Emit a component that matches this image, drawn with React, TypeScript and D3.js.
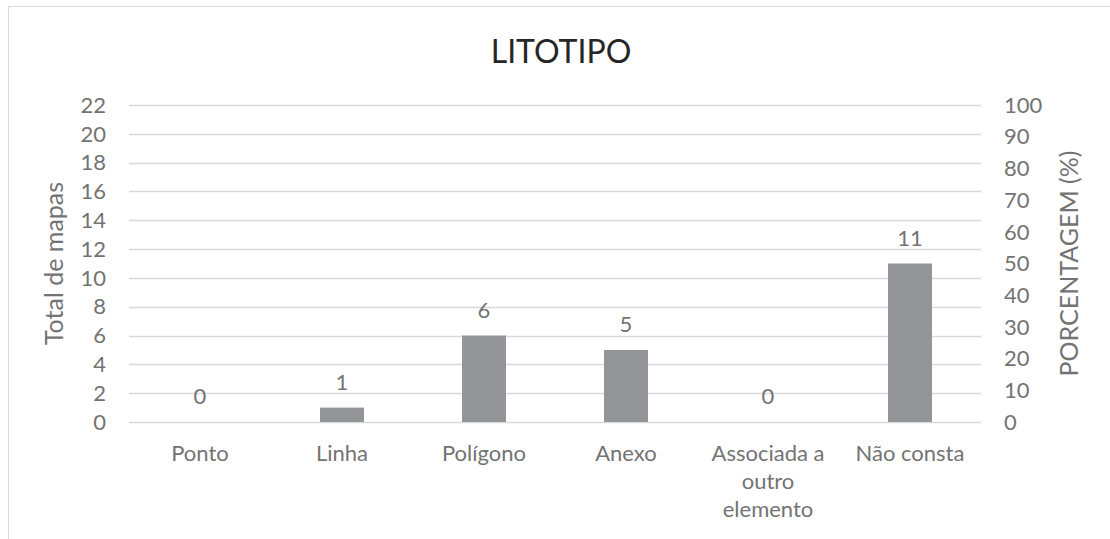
import { useEffect, useRef } from 'react'
import * as d3 from 'd3'

const categories = ['Ponto', 'Linha', 'Polígono', 'Anexo', 'Associada a outro elemento', 'Não consta']
const totals = [0, 1, 6, 5, 0, 11]
const leftTicks = [0, 2, 4, 6, 8, 10, 12, 14, 16, 18, 20, 22]
const rightTicks = [0, 10, 20, 30, 40, 50, 60, 70, 80, 90, 100]

const W = 1110
const H = 539
const FONT = 'Lato, "Open Sans", sans-serif'
const TEXT = '#737373'
const GRID = '#d9d9d9'
const BAR = '#939598'

// break a label into lines that fit the band width
function wrapWords(text: string, maxWidth: number, measure: (s: string) => number) {
  const words = text.split(' ')
  const lines: string[] = []
  let current = ''
  for (const w of words) {
    const test = current ? current + ' ' + w : w
    if (current && measure(test) > maxWidth) {
      lines.push(current)
      current = w
    } else {
      current = test
    }
  }
  if (current) lines.push(current)
  return lines
}

export default function App() {
  const svgRef = useRef<SVGSVGElement | null>(null)

  useEffect(() => {
    const svgElement = svgRef.current
    if (!svgElement) return
    const svg = d3.select(svgElement)
    svg.selectAll('*').remove()

    const plotLeft = 129
    const plotRight = 981
    const plotTop = 105
    const plotBottom = 422

    // chart frame (only left and top edges fall inside the picture)
    svg
      .append('rect')
      .attr('x', 8.5)
      .attr('y', 6.5)
      .attr('width', W)
      .attr('height', H)
      .attr('fill', '#fff')
      .attr('stroke', GRID)
      .attr('stroke-width', 1)

    const x = d3
      .scaleBand<string>()
      .domain(categories)
      .range([plotLeft, plotRight])
      .paddingInner(0.69)
      .paddingOuter(0.345)

    const y = d3.scaleLinear().domain([0, 22]).range([plotBottom, plotTop])
    const yRight = d3.scaleLinear().domain([0, 100]).range([plotBottom, plotTop])

    // gridlines
    svg
      .append('g')
      .selectAll('line')
      .data(leftTicks)
      .join('line')
      .attr('x1', plotLeft)
      .attr('x2', plotRight)
      .attr('y1', (d) => Math.round(y(d)) + 0.5)
      .attr('y2', (d) => Math.round(y(d)) + 0.5)
      .attr('stroke', GRID)
      .attr('stroke-width', 1.5)

    // left axis labels
    svg
      .append('g')
      .selectAll('text')
      .data(leftTicks)
      .join('text')
      .attr('x', 106)
      .attr('y', (d) => y(d))
      .attr('dy', '0.35em')
      .attr('text-anchor', 'end')
      .attr('font-family', FONT)
      .attr('font-size', 22)
      .attr('fill', TEXT)
      .text((d) => d)

    // right axis labels
    svg
      .append('g')
      .selectAll('text')
      .data(rightTicks)
      .join('text')
      .attr('x', 1004)
      .attr('y', (d) => yRight(d))
      .attr('dy', '0.35em')
      .attr('text-anchor', 'start')
      .attr('font-family', FONT)
      .attr('font-size', 22)
      .attr('fill', TEXT)
      .text((d) => d)

    // bars
    svg
      .append('g')
      .selectAll('rect')
      .data(totals)
      .join('rect')
      .attr('x', (_, i) => x(categories[i]) as number)
      .attr('y', (d) => y(d))
      .attr('width', x.bandwidth())
      .attr('height', (d) => plotBottom - y(d))
      .attr('fill', BAR)

    // value labels
    svg
      .append('g')
      .selectAll('text')
      .data(totals)
      .join('text')
      .attr('x', (_, i) => (x(categories[i]) as number) + x.bandwidth() / 2)
      .attr('y', (d) => y(d) - 18)
      .attr('text-anchor', 'middle')
      .attr('font-family', FONT)
      .attr('font-size', 22)
      .attr('fill', TEXT)
      .text((d) => d)

    // category labels
    const measurer = svg
      .append('text')
      .attr('font-family', FONT)
      .attr('font-size', 22)
      .attr('visibility', 'hidden')
    const measure = (s: string) => {
      measurer.text(s)
      return (measurer.node() as SVGTextElement).getComputedTextLength()
    }
    const step = x.step()
    const catGroup = svg.append('g')
    categories.forEach((c) => {
      const cx = (x(c) as number) + x.bandwidth() / 2
      const lines = wrapWords(c, step - 10, measure)
      const t = catGroup
        .append('text')
        .attr('text-anchor', 'middle')
        .attr('font-family', FONT)
        .attr('font-size', 22)
        .attr('fill', TEXT)
      lines.forEach((line, k) => {
        t.append('tspan')
          .attr('x', cx)
          .attr('y', 461 + k * 28)
          .text(line)
      })
    })
    measurer.remove()

    const midY = (plotBottom + plotTop) / 2

    svg
      .append('text')
      .attr('transform', `translate(63,${midY}) rotate(-90)`)
      .attr('text-anchor', 'middle')
      .attr('font-family', FONT)
      .attr('font-size', 25)
      .attr('fill', TEXT)
      .text('Total de mapas')

    svg
      .append('text')
      .attr('transform', `translate(1078,${midY}) rotate(-90)`)
      .attr('text-anchor', 'middle')
      .attr('font-family', FONT)
      .attr('font-size', 25)
      .attr('fill', TEXT)
      .text('PORCENTAGEM (%)')

    svg
      .append('text')
      .attr('x', 561)
      .attr('y', 63)
      .attr('text-anchor', 'middle')
      .attr('font-family', FONT)
      .attr('font-size', 32)
      .attr('fill', '#262626')
      .text('LITOTIPO')
  }, [])

  return (
    <svg
      ref={svgRef}
      width={W}
      height={H}
      style={{ position: 'absolute', left: 0, top: 0, background: '#fff' }}
    />
  )
}
